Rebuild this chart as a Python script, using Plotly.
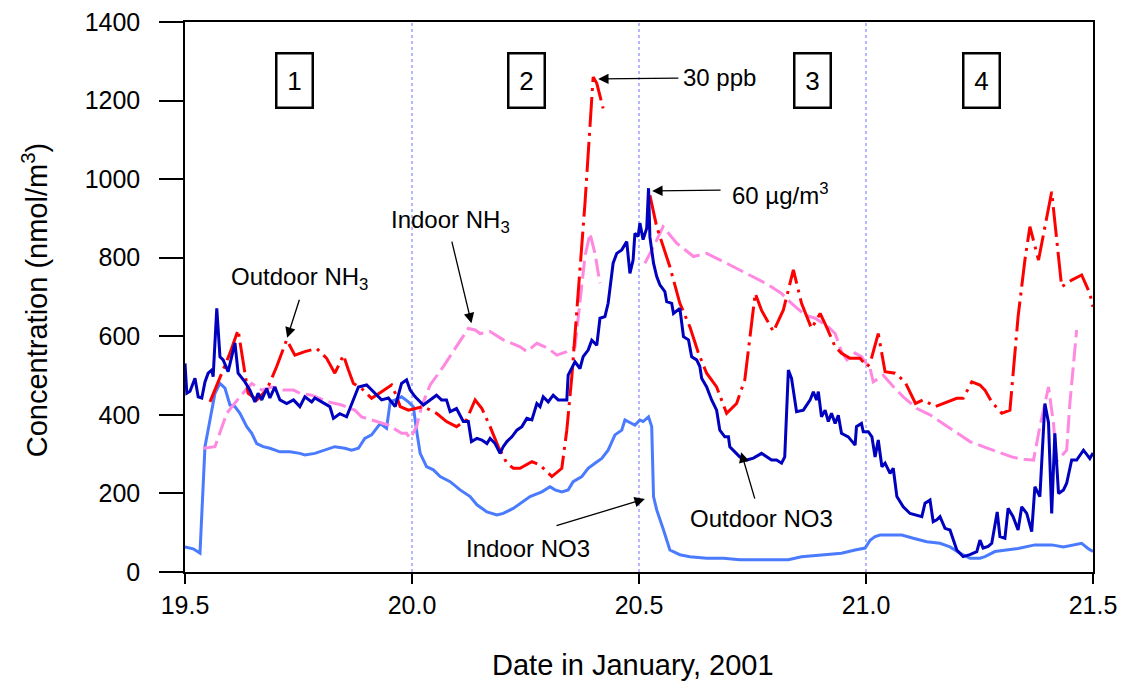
import plotly.graph_objects as go

# ---------------- data ----------------
out_no3_x = [19.500, 19.504, 19.511, 19.522, 19.529, 19.537, 19.544, 19.551, 19.559, 19.562, 19.570, 19.577,
             19.584, 19.595, 19.610, 19.617, 19.632, 19.643, 19.654, 19.661, 19.669, 19.680, 19.687, 19.698,
             19.709, 19.724, 19.739, 19.753, 19.764, 19.779, 19.786, 19.801, 19.819, 19.827, 19.841, 19.856,
             19.871, 19.882, 19.900, 19.919, 19.933, 19.948, 19.963, 19.977, 19.988, 19.996, 20.007, 20.025,
             20.040, 20.054, 20.065, 20.076, 20.084, 20.098, 20.113, 20.124, 20.131, 20.143, 20.154, 20.165,
             20.172, 20.183, 20.194, 20.201, 20.209, 20.220, 20.231, 20.242, 20.253, 20.264, 20.275, 20.282,
             20.289, 20.300, 20.311, 20.322, 20.341, 20.344, 20.359, 20.370, 20.377, 20.388, 20.396, 20.407,
             20.414, 20.425, 20.432, 20.443, 20.451, 20.462, 20.473, 20.480, 20.487, 20.491, 20.498, 20.502,
             20.509, 20.517, 20.521, 20.524, 20.532, 20.539, 20.546, 20.557, 20.561, 20.572, 20.576, 20.590,
             20.598, 20.609, 20.616, 20.627, 20.634, 20.638, 20.649, 20.660, 20.671, 20.678, 20.689, 20.697,
             20.700, 20.715, 20.722, 20.737, 20.752, 20.770, 20.781, 20.792, 20.803, 20.814, 20.821, 20.829,
             20.836, 20.847, 20.862, 20.877, 20.884, 20.891, 20.895, 20.902, 20.910, 20.917, 20.924, 20.932,
             20.939, 20.946, 20.961, 20.976, 20.979, 20.990, 20.994, 21.005, 21.013, 21.016, 21.020, 21.027,
             21.035, 21.042, 21.053, 21.060, 21.068, 21.082, 21.097, 21.123, 21.130, 21.141, 21.148, 21.156,
             21.163, 21.174, 21.185, 21.200, 21.214, 21.229, 21.244, 21.251, 21.258, 21.269, 21.277, 21.289,
             21.295, 21.306, 21.313, 21.324, 21.335, 21.343, 21.354, 21.365, 21.372, 21.383, 21.394, 21.402,
             21.409, 21.416, 21.420, 21.424, 21.435, 21.442, 21.453, 21.464, 21.479, 21.493, 21.500]
out_no3_y = [531, 455, 460, 493, 446, 443, 484, 506, 514, 497, 671, 548,
             540, 510, 583, 506, 484, 463, 433, 455, 438, 467, 443, 471,
             438, 429, 438, 421, 446, 433, 443, 433, 421, 391, 403, 395,
             438, 471, 476, 455, 438, 443, 421, 480, 489, 463, 446, 425,
             438, 450, 438, 438, 408, 416, 383, 383, 332, 340, 336, 327,
             340, 327, 302, 319, 332, 344, 361, 370, 391, 387, 429, 421,
             446, 433, 450, 438, 438, 501, 535, 518, 548, 565, 590, 577,
             646, 650, 684, 786, 811, 820, 841, 760, 794, 862, 854, 888,
             846, 875, 977, 853, 786, 752, 731, 714, 688, 684, 658, 671,
             599, 591, 548, 540, 523, 493, 471, 438, 412, 361, 344, 344,
             319, 302, 293, 285, 290, 302, 293, 285, 285, 277, 293, 514,
             493, 408, 412, 438, 459, 438, 459, 395, 412, 383, 404, 378,
             399, 353, 344, 323, 370, 378, 357, 357, 344, 319, 293, 336,
             268, 277, 251, 264, 192, 166, 149, 141, 175, 183, 128, 133,
             141, 111, 107, 56, 39, 44, 52, 81, 61, 65, 73, 153,
             90, 86, 162, 141, 107, 166, 149, 103, 217, 192, 429, 380,
             149, 353, 283, 200, 209, 226, 285, 285, 310, 289, 303]

in_no3_x = [19.500, 19.518, 19.533, 19.540, 19.544, 19.555, 19.566, 19.577, 19.588, 19.599, 19.610, 19.621,
            19.636, 19.647, 19.658, 19.672, 19.687, 19.709, 19.731, 19.753, 19.764, 19.786, 19.808, 19.830,
            19.852, 19.867, 19.882, 19.896, 19.911, 19.930, 19.944, 19.952, 19.963, 19.977, 19.992, 19.996,
            20.003, 20.010, 20.018, 20.032, 20.047, 20.062, 20.084, 20.106, 20.128, 20.143, 20.165, 20.187,
            20.201, 20.223, 20.245, 20.260, 20.286, 20.304, 20.315, 20.330, 20.344, 20.355, 20.374, 20.388,
            20.403, 20.418, 20.432, 20.447, 20.462, 20.469, 20.484, 20.491, 20.502, 20.509, 20.521, 20.528,
            20.532, 20.539, 20.554, 20.568, 20.590, 20.612, 20.649, 20.686, 20.722, 20.767, 20.829, 20.858,
            20.902, 20.946, 20.976, 20.998, 21.009, 21.020, 21.031, 21.079, 21.104, 21.134, 21.163, 21.185,
            21.207, 21.229, 21.251, 21.262, 21.284, 21.306, 21.335, 21.372, 21.409, 21.435, 21.460, 21.475,
            21.489, 21.500]
in_no3_y = [64, 59, 48, 209, 319, 387, 455, 480, 468, 425, 421, 404,
            370, 353, 327, 319, 315, 306, 306, 302, 298, 302, 310, 319,
            315, 310, 315, 340, 349, 378, 366, 433, 438, 446, 433, 429,
            421, 361, 302, 268, 260, 243, 230, 209, 192, 171, 153, 145,
            149, 162, 179, 192, 204, 217, 209, 204, 209, 230, 243, 264,
            277, 289, 310, 349, 361, 387, 378, 374, 387, 383, 395, 370,
            192, 158, 107, 56, 44, 39, 35, 35, 31, 31, 31, 39,
            44, 48, 56, 61, 81, 90, 94, 94, 86, 77, 73, 64,
            48, 35, 35, 39, 52, 56, 60, 69, 69, 64, 69, 73,
            60, 52]

out_nh3_x = [19.555, 19.581, 19.599, 19.617, 19.628, 19.639, 19.658, 19.680, 19.702, 19.724, 19.742, 19.764,
             19.790, 19.812, 19.830, 19.849, 19.860, 19.871, 19.889, 19.911, 19.933, 19.955, 19.963, 19.974,
             19.992, 20.010, 20.025, 20.054, 20.076, 20.098, 20.120, 20.139, 20.154, 20.172, 20.190, 20.209,
             20.223, 20.238, 20.264, 20.282, 20.308, 20.330, 20.341, 20.352, 20.366, 20.381, 20.392, 20.399,
             20.407, 20.421, 20.470,
             20.524, 20.539, 20.568, 20.590, 20.612, 20.631, 20.649, 20.671, 20.693, 20.715, 20.733, 20.744,
             20.756, 20.770, 20.796, 20.818, 20.840, 20.858, 20.880, 20.899, 20.913, 20.932, 20.946, 20.965,
             20.987, 21.002, 21.009, 21.027, 21.042, 21.064, 21.086, 21.109, 21.126, 21.152, 21.178, 21.200,
             21.214, 21.233, 21.251, 21.262, 21.277, 21.299, 21.317, 21.335, 21.350, 21.361, 21.380, 21.409,
             21.431, 21.453, 21.475, 21.493, 21.500]
out_nh3_y = [433, 506, 557, 616, 531, 455, 438, 463, 523, 591, 552, 561,
             569, 544, 506, 552, 514, 480, 467, 442, 459, 476, 455, 421,
             412, 416, 421, 404, 383, 370, 387, 438, 416, 370, 319, 277,
             264, 264, 281, 272, 243, 264, 361, 497, 709, 938, 1134, 1260,
             1244, 1180, None,
             959, 879, 777, 684, 624, 557, 506, 471, 404, 429, 489, 599,
             709, 666, 612, 667, 769, 684, 620, 658, 624, 573, 557, 544,
             544, 523, 531, 607, 510, 506, 484, 429, 438, 421, 433, 442,
             442, 484, 476, 463, 433, 404, 412, 650, 794, 879, 794, 968,
             726, 743, 756, 709, 675]

in_nh3_x = [19.540, 19.566, 19.592, 19.621, 19.647, 19.669, 19.691, 19.717, 19.739, 19.753, 19.779, 19.816,
            19.845, 19.874, 19.889, 19.911, 19.948, 19.977, 19.988, 19.996, 20.010, 20.021, 20.040, 20.069,
            20.098, 20.124, 20.139, 20.150, 20.172, 20.201, 20.238, 20.253, 20.275, 20.300, 20.319, 20.341,
            20.359, 20.370, 20.381, 20.392, 20.403, 20.414, 20.470,
            20.513, 20.532, 20.553, 20.583, 20.620, 20.649, 20.686, 20.722, 20.759, 20.785, 20.814, 20.836,
            20.866, 20.888, 20.917, 20.932, 20.946, 20.958, 20.976, 20.990, 21.009, 21.016, 21.038, 21.060,
            21.082, 21.112, 21.141, 21.170, 21.200, 21.229, 21.258, 21.291, 21.321, 21.343, 21.369, 21.383,
            21.402, 21.413, 21.420, 21.442, 21.449, 21.464]
in_nh3_y = [315, 319, 404, 446, 480, 463, 471, 463, 463, 455, 450, 433,
            425, 412, 395, 387, 374, 353, 353, 340, 370, 421, 476, 523,
            573, 620, 616, 607, 612, 591, 573, 561, 582, 569, 552, 561,
            573, 697, 803, 862, 811, 735, None,
            786, 828, 879, 837, 803, 811, 790, 769, 748, 731, 709, 684,
            654, 646, 624, 607, 561, 540, 557, 548, 518, 484, 501, 472,
            446, 416, 400, 378, 353, 332, 319, 306, 293, 287, 285, 370,
            471, 378, 281, 310, 429, 616]

period_bounds = [20.0, 20.5, 21.0]
period_labels = ["1", "2", "3", "4"]
period_label_x = [19.742, 20.252, 20.883, 21.255]
x_ticks = [19.5, 20.0, 20.5, 21.0, 21.5]
y_ticks = [0, 200, 400, 600, 800, 1000, 1200, 1400]

FONT = "Arial, Liberation Sans, sans-serif"

fig = go.Figure()
fig.add_trace(go.Scatter(x=in_no3_x, y=in_no3_y, mode="lines", name="Indoor NO3",
                         line=dict(color="#4A7BFF", width=3)))
fig.add_trace(go.Scatter(x=in_nh3_x, y=in_nh3_y, mode="lines", name="Indoor NH3", connectgaps=False,
                         line=dict(color="#FF88E0", width=3, dash="18px,6px")))
fig.add_trace(go.Scatter(x=out_nh3_x, y=out_nh3_y, mode="lines", name="Outdoor NH3", connectgaps=False,
                         line=dict(color="#FF0000", width=3, dash="30px,6px,3px,6px")))
fig.add_trace(go.Scatter(x=out_no3_x, y=out_no3_y, mode="lines", name="Outdoor NO3",
                         line=dict(color="#0000BF", width=3)))

shapes = []
for b in period_bounds:
    shapes.append(dict(type="line", xref="x", yref="paper", x0=b, x1=b, y0=0, y1=1,
                       line=dict(color="#6F6FFF", width=1, dash="dot"), layer="below"))

ann = []
for lab, px in zip(period_labels, period_label_x):
    ann.append(dict(x=px, y=1250, xref="x", yref="y", text=lab, showarrow=False,
                    font=dict(family=FONT, size=26, color="black"),
                    bordercolor="black", borderwidth=2.5, borderpad=3,
                    width=28, height=46, bgcolor="white"))

# text labels
labels = [
    ("Outdoor NH<sub>3</sub>", 19.752, 748),
    ("Indoor NH<sub>3</sub>", 20.085, 891),
    ("30 ppb", 20.678, 1260),
    ("60 \u00b5g/m<sup>3</sup>", 20.811, 962),
    ("Outdoor NO3", 20.769, 137),
    ("Indoor NO3", 20.255, 61),
]
for t, x, y in labels:
    ann.append(dict(x=x, y=y, xref="x", yref="y", text=t, showarrow=False,
                    xanchor="center", yanchor="middle",
                    font=dict(family=FONT, size=24, color="black")))

# arrows: (tip_x, tip_y, tail_x, tail_y)
arrows = [
    (19.725, 596, 19.753, 697),
    (20.131, 633, 20.087, 845),
    (20.410, 1255, 20.590, 1257),
    (20.529, 970, 20.683, 972),
    (20.725, 305, 20.756, 183),
    (20.513, 186, 20.315, 117),
]
for tx, ty, sx, sy in arrows:
    ann.append(dict(x=tx, y=ty, ax=sx, ay=sy, xref="x", yref="y", axref="x", ayref="y",
                    text="", showarrow=True, arrowhead=2, arrowsize=1.6, arrowwidth=1.3,
                    arrowcolor="black", standoff=0, startstandoff=0))

# axis titles
ann.append(dict(xref="paper", yref="paper", x=-0.165, y=0.4945, text="Concentration (nmol/m<sup>3</sup>)",
                showarrow=False, textangle=-90, xanchor="center", yanchor="middle",
                font=dict(family=FONT, size=29, color="black")))
ann.append(dict(xref="paper", yref="paper", x=0.493, y=-0.169, text="Date in January, 2001",
                showarrow=False, xanchor="center", yanchor="middle",
                font=dict(family=FONT, size=29, color="black")))

fig.update_layout(
    width=1125, height=688,
    margin=dict(l=177, r=40, t=14, b=124, autoexpand=False),
    paper_bgcolor="white", plot_bgcolor="white",
    showlegend=False,
    shapes=shapes, annotations=ann,
    font=dict(family=FONT, size=25, color="black"),
)
fig.update_xaxes(range=[19.5, 21.5], tickvals=x_ticks, ticktext=[f"{v:.1f}" for v in x_ticks],
                 showgrid=False, zeroline=False, showline=True, linecolor="black", linewidth=1.5,
                 mirror=True, ticks="outside", ticklen=10, tickwidth=1.5, tickcolor="black",
                 ticklabeloverflow="allow", automargin=False,
                 tickfont=dict(family=FONT, size=25, color="black"))
fig.update_yaxes(range=[0, 1400], tickvals=y_ticks, showgrid=False, zeroline=False, showline=True,
                 linecolor="black", linewidth=1.5, mirror=True, ticks="outside", ticklen=24,
                 tickwidth=1.5, tickcolor="black", ticklabelstandoff=14, ticklabeloverflow="allow",
                 automargin=False,
                 tickfont=dict(family=FONT, size=25, color="black"))

fig.write_html("out.html")
